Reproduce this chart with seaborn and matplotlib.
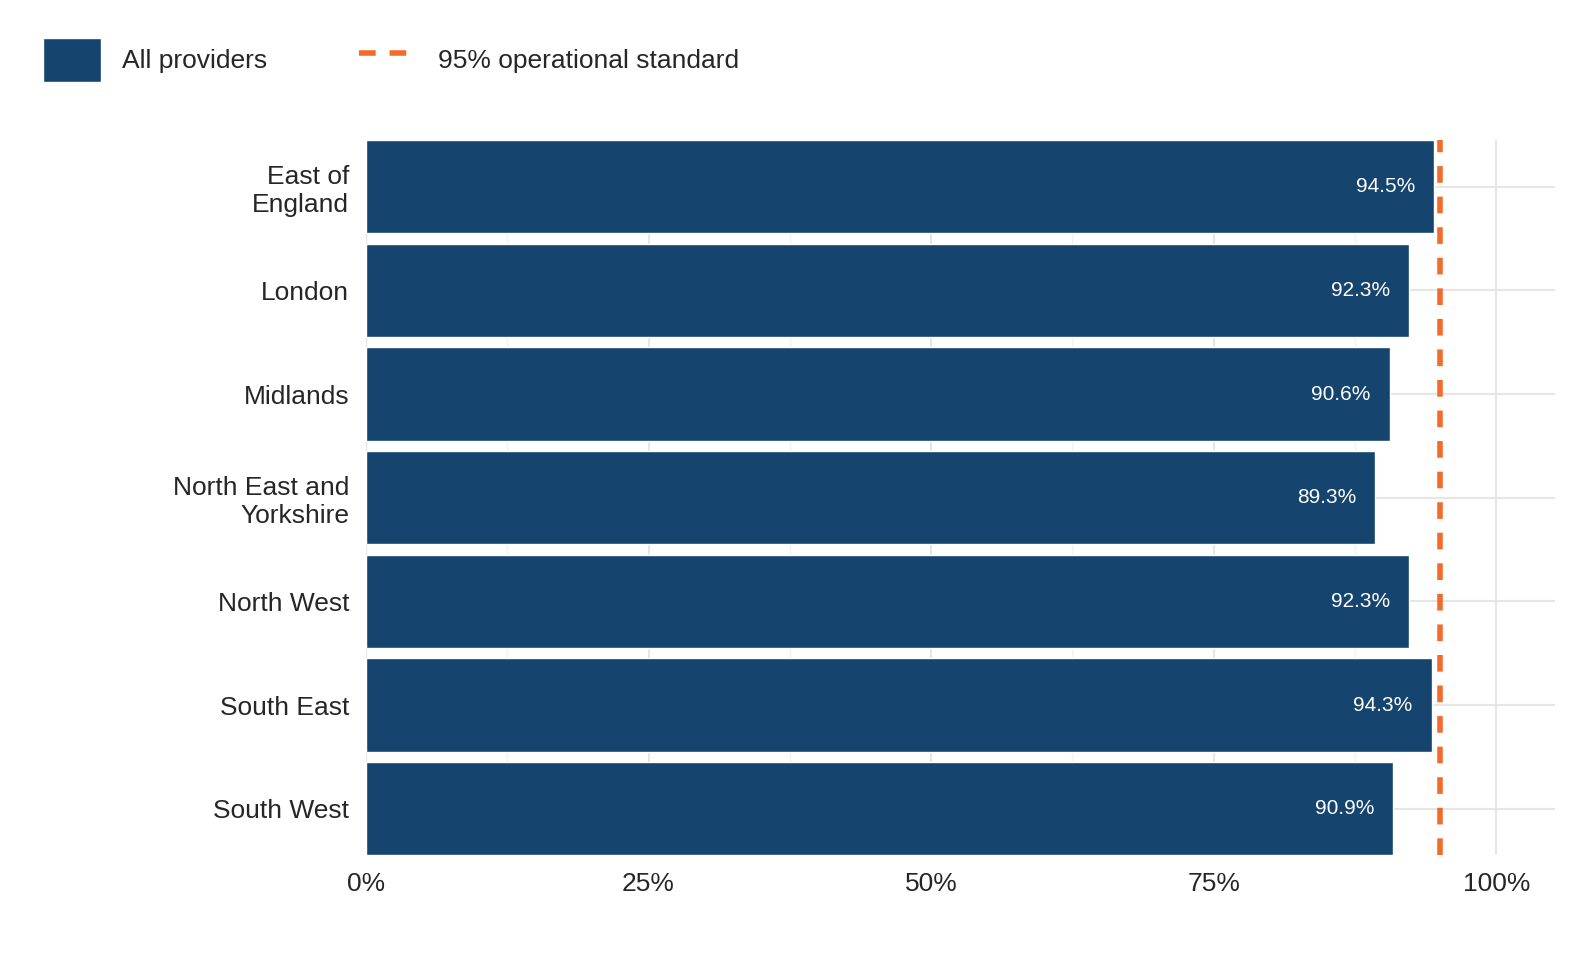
import matplotlib.pyplot as plt
import pandas as pd
import seaborn as sns
from matplotlib.lines import Line2D
from matplotlib.patches import Patch
from matplotlib.ticker import MultipleLocator, PercentFormatter


BAR_COLOUR = "#15446e"
STANDARD_COLOUR = "#f26b2a"
STANDARD = 0.95

REGIONS = pd.DataFrame(
    {
        "region": [
            "East of\nEngland",
            "London",
            "Midlands",
            "North East and\nYorkshire",
            "North West",
            "South East",
            "South West",
        ],
        "share": [0.945, 0.923, 0.906, 0.893, 0.923, 0.943, 0.909],
    }
)


def save_chart(data) -> None:
    fig = plt.figure(figsize=(15.74, 9.6), dpi=100)
    ax = fig.add_axes([0.2325, 0.109, 0.7555, 0.745])
    sns.barplot(data=data, x="share", y="region", color=BAR_COLOUR,
                width=0.9, saturation=1, ax=ax)
    ax.axvline(STANDARD, color=STANDARD_COLOUR, linewidth=4, linestyle=(0, (3, 2.5)))

    for i, value in enumerate(data["share"]):
        ax.text(value - 0.017, i, f"{value * 100:.1f}%", color="white",
                ha="right", va="center", fontsize=15)

    ax.set_xlim(0, 1.052)
    ax.set_ylim(6.45, -0.45)
    ax.xaxis.set_major_locator(MultipleLocator(0.25))
    ax.xaxis.set_minor_locator(MultipleLocator(0.125))
    ax.xaxis.set_major_formatter(PercentFormatter(1, decimals=0))
    ax.grid(axis="x", which="major", color="#e6e6e6", linewidth=1.5)
    ax.grid(axis="x", which="minor", color="#f2f2f2", linewidth=1)
    ax.grid(axis="y", color="#e6e6e6", linewidth=1.5)
    ax.set_axisbelow(True)
    ax.tick_params(axis="both", which="both", length=0, labelsize=19, pad=12)
    ax.set_xlabel("")
    ax.set_ylabel("")
    for spine in ax.spines.values():
        spine.set_visible(False)

    handles = [
        Patch(facecolor=BAR_COLOUR, label="All providers"),
        Line2D([0], [0], color=STANDARD_COLOUR, linewidth=4,
               linestyle=(0, (3, 2.5)), label="95% operational standard"),
    ]
    fig.legend(handles=handles, loc="upper left", bbox_to_anchor=(0.012, 0.985),
               ncol=2, frameon=False, fontsize=19, handlelength=2.2,
               handleheight=2.2, columnspacing=3.5, handletextpad=0.8)
    fig.savefig("out.png", dpi=100)
    plt.close(fig)


def main() -> None:
    sns.set_style("white")
    plt.rcParams["font.family"] = ["Liberation Sans", "DejaVu Sans"]
    save_chart(REGIONS)


if __name__ == "__main__":
    main()
